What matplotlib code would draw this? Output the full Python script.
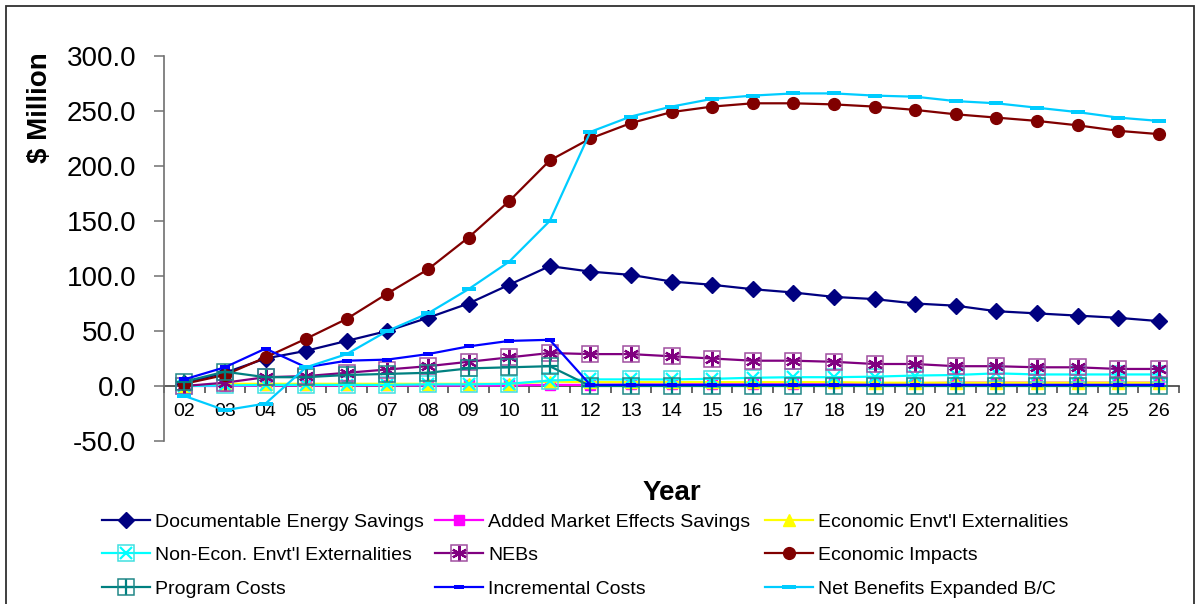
import numpy as np
import matplotlib
matplotlib.use("Agg")
import matplotlib.pyplot as plt
from matplotlib.path import Path
from matplotlib.patches import Rectangle

plt.rcParams['font.family'] = ['Liberation Sans', 'DejaVu Sans']

years = ['02', '03', '04', '05', '06', '07', '08', '09', '10', '11', '12', '13', '14',
         '15', '16', '17', '18', '19', '20', '21', '22', '23', '24', '25', '26']

energy_savings = [3, 12, 25, 32, 41, 50, 62, 75, 92, 109, 104, 101, 95, 92, 88, 85, 81,
                  79, 75, 73, 68, 66, 64, 62, 59]
market_effects = [0, 0, 0.5, 0.5, 0.5, 0.5, 0.5, 0.5, 0.5, 1, 1, 1.5, 1.5, 2, 2, 2, 2.5,
                  2.5, 2.5, 3, 3, 3, 3, 3, 3]
econ_externalities = [0, 2, 2, 2, 2, 2, 2, 2, 2, 4, 3.5, 3.5, 3.5, 3.5, 3.5, 3.5, 3.5,
                      3, 3, 3, 3, 3, 3, 3, 3]
nonecon_externalities = [0, 0.5, 1, 1, 1, 1, 1.5, 1.5, 2, 5, 6, 6, 6, 6.5, 7.5, 8, 8,
                         8.5, 9.5, 10, 11.5, 10.5, 10.5, 10.5, 10.5]
nebs = [0, 3, 8, 9, 12, 15, 18, 22, 26, 30, 29, 29, 27, 25, 23, 23, 22, 20, 20, 18, 18,
        17, 17, 15.5, 15.5]
econ_impacts = [2, 10, 26, 43, 61, 84, 106, 135, 168, 205, 225, 239, 249, 254, 257, 257,
                256, 254, 251, 247, 244, 241, 237, 232, 229]
program_costs = [4, 13, 8, 8, 10, 11, 12, 16, 17, 18, 0, 0, 0, 0, 0, 0, 0, 0, 0, 0, 0,
                 0, 0, 0, 0]
incremental_costs = [6, 17, 34, 17, 23, 24, 29, 36, 41, 42, 1, 1, 1, 1, 1, 1, 1, 1, 1,
                     1, 1, 1, 1, 1, 1]
net_benefits = [-9, -22, -16, 17, 29, 50, 66, 88, 113, 150, 231, 245, 254, 261, 264, 266,
                266, 264, 263, 259, 257, 253, 249, 244, 241]

x = np.arange(len(years))

# flat bar marker (Excel "dash")
dash = Path([(-0.5, -0.16), (0.5, -0.16), (0.5, 0.16), (-0.5, 0.16), (-0.5, -0.16)],
            [Path.MOVETO, Path.LINETO, Path.LINETO, Path.LINETO, Path.CLOSEPOLY])

fig = plt.figure(figsize=(12, 6.04), dpi=100)
ax = fig.add_axes([164 / 1200, 1 - 441 / 604, 1015 / 1200, 385 / 604])

# x axis crosses at zero; set before the tick labels since it resets the ticks
for s in ['top', 'right']:
    ax.spines[s].set_visible(False)
ax.spines['bottom'].set_position(('data', 0))
ax.spines['bottom'].set_color('#404040')
ax.spines['bottom'].set_linewidth(1.2)
ax.spines['left'].set_color('#707070')
ax.spines['left'].set_linewidth(1.2)
ax.spines['bottom'].set_zorder(2)

lw = 1.6
z = 3
handles = {}


def boxed(vals, color, inner, ms_in, box_color, name):
    global z
    ln, = ax.plot(x, vals, color=color, lw=lw, marker=inner, ms=ms_in, mew=1.6,
                  mec=color, zorder=z, clip_on=False)
    bx, = ax.plot(x, vals, ls='none', marker='s', ms=11.5, mfc='none', mec=box_color,
                  mew=1.1, zorder=z, clip_on=False)
    z += 1
    handles[name] = (ln, bx)


def simple(vals, color, name, **kw):
    global z
    ln, = ax.plot(x, vals, color=color, lw=lw, zorder=z, clip_on=False, **kw)
    z += 1
    handles[name] = ln


simple(energy_savings, '#000080', 'Documentable Energy Savings', marker='D', ms=8.5)
simple(market_effects, '#FF00FF', 'Added Market Effects Savings', marker='s', ms=7)
simple(econ_externalities, '#FFFF00', "Economic Envt'l Externalities", marker='^', ms=9)
boxed(nonecon_externalities, '#00FFFF', 'x', 9, '#40E0E0', "Non-Econ. Envt'l Externalities")
boxed(nebs, '#800080', (6, 2, 0), 11, '#A050A0', 'NEBs')
simple(econ_impacts, '#800000', 'Economic Impacts', marker='o', ms=8.5)
boxed(program_costs, '#008080', '+', 11, '#208888', 'Program Costs')
simple(incremental_costs, '#0000FF', 'Incremental Costs', marker=dash, ms=7, mew=0)
simple(net_benefits, '#00CCFF', 'Net Benefits Expanded B/C', marker=dash, ms=10, mew=0)

ax.set_xlim(-0.5, len(years) - 0.5)
ax.set_ylim(-50, 300)
ax.set_yticks(np.arange(-50, 301, 50))
ax.set_yticklabels(['%.1f' % v for v in np.arange(-50, 301, 50)])
ax.set_xticks(x)
ax.set_xticklabels(years)
ax.set_xticks(np.arange(-0.5, len(years), 1), minor=True)

ax.tick_params(axis='y', direction='out', length=7, width=1.1, color='#707070', pad=13,
               labelsize=20)
ax.tick_params(axis='x', which='major', length=0, pad=12, labelsize=14)
ax.tick_params(axis='x', which='minor', direction='out', length=5, width=1.1,
               color='#404040')

fig.text(40 / 1200, 1 - 108 / 604, '$ Million', rotation=90, ha='center', va='center',
         fontsize=20, fontweight='bold')
fig.text(672 / 1200, 1 - 493 / 604, 'Year', ha='center', va='center', fontsize=20,
         fontweight='bold')

columns = [
    ['Documentable Energy Savings', "Non-Econ. Envt'l Externalities", 'Program Costs'],
    ['Added Market Effects Savings', 'NEBs', 'Incremental Costs'],
    ["Economic Envt'l Externalities", 'Economic Impacts', 'Net Benefits Expanded B/C'],
]
col_x = [102, 435, 765]
for names, cx in zip(columns, col_x):
    leg = fig.legend([handles[n] for n in names], names, loc='upper left',
                     bbox_to_anchor=(cx / 1200, 1 - 513 / 604), frameon=False,
                     fontsize=14, borderpad=0, borderaxespad=0, handlelength=2.45,
                     handletextpad=0.3, labelspacing=0.82)

fig.patches.append(Rectangle((6 / 1200, -0.02), 1188 / 1200, 1.02 - 6 / 604,
                             transform=fig.transFigure, fill=False, ec='#303030', lw=1.3))

fig.savefig('out.png', dpi=100)
